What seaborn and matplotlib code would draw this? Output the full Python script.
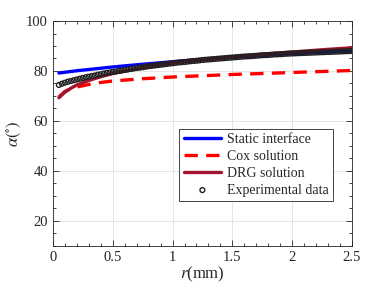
import numpy as np
import pandas as pd
import matplotlib.pyplot as plt
import seaborn as sns
from matplotlib.ticker import MultipleLocator

# model curves (r in mm, contact angle in degrees)
r_model = [0.05, 0.1, 0.15, 0.2, 0.3, 0.4, 0.5, 0.75, 1.0, 1.25, 1.5, 1.75, 2.0, 2.25, 2.5]
static_alpha = [79.2, 79.5, 79.8, 80.1, 80.6, 81.1, 81.6, 82.7, 83.7, 84.6, 85.5, 86.2, 87.0, 87.5, 88.0]
cox_alpha = [69.6, 71.8, 72.9, 73.6, 74.6, 75.4, 76.0, 76.9, 77.6, 78.1, 78.6, 79.0, 79.4, 79.8, 80.2]
drg_alpha = [69.3, 71.5, 73.1, 74.4, 76.2, 77.7, 79.0, 81.3, 83.1, 84.5, 85.7, 86.7, 87.6, 88.5, 89.3]

# experimental data, r = 0.05 ... 2.5 mm every 0.025 mm
r_exp = np.round(np.arange(0.05, 2.5001, 0.025), 3)
exp_alpha = [74.4, 74.9, 75.3, 75.7, 76.0, 76.3, 76.6, 76.9, 77.2, 77.5,
             77.7, 78.0, 78.2, 78.5, 78.7, 79.0, 79.2, 79.4, 79.6, 79.8,
             80.0, 80.2, 80.4, 80.6, 80.8, 81.0, 81.2, 81.35, 81.5, 81.7,
             81.9, 82.05, 82.2, 82.35, 82.5, 82.65, 82.8, 82.95, 83.1, 83.25,
             83.4, 83.5, 83.6, 83.75, 83.9, 84.0, 84.1, 84.25, 84.4, 84.5,
             84.6, 84.7, 84.8, 84.9, 85.0, 85.1, 85.2, 85.3, 85.4, 85.5,
             85.6, 85.7, 85.8, 85.85, 85.9, 86.0, 86.1, 86.2, 86.3, 86.35,
             86.4, 86.5, 86.6, 86.65, 86.7, 86.8, 86.9, 86.95, 87.0, 87.05,
             87.1, 87.15, 87.2, 87.25, 87.3, 87.35, 87.4, 87.45, 87.5, 87.55,
             87.6, 87.65, 87.7, 87.75, 87.8, 87.85, 87.9, 87.95, 88.0]

sns.set_theme(style='ticks')
plt.rcParams['font.family'] = ['Liberation Serif', 'DejaVu Serif']
plt.rcParams['mathtext.fontset'] = 'stix'

fig = plt.figure(figsize=(3.89, 2.92), dpi=100)
ax = fig.add_axes([0.136, 0.158, 0.769, 0.770])

lw = 2.4
sns.lineplot(x=r_model, y=static_alpha, ax=ax, color=(0, 0, 1), lw=lw, label='Static interface')
sns.lineplot(x=r_model, y=cox_alpha, ax=ax, color=(1, 0, 0), lw=lw, label='Cox solution')
ax.lines[-1].set_dashes([4, 2.5])
sns.lineplot(x=r_model, y=drg_alpha, ax=ax, color=(0.635, 0.078, 0.184), lw=lw, label='DRG solution')
sns.scatterplot(x=r_exp, y=exp_alpha, ax=ax, marker='o', s=12, facecolor='none',
                edgecolor=(0.12, 0.12, 0.12), linewidth=1.0, label='Experimental data', zorder=3)

ax.set_xlim(0, 2.5)
ax.set_ylim(10, 100)
ax.xaxis.set_major_locator(MultipleLocator(0.5))
ax.xaxis.set_minor_locator(MultipleLocator(0.1))
ax.yaxis.set_major_locator(MultipleLocator(20))
ax.yaxis.set_minor_locator(MultipleLocator(5))
ax.set_xticks([0, 0.5, 1, 1.5, 2, 2.5])
ax.set_xticklabels(['0', '0.5', '1', '1.5', '2', '2.5'])
ax.tick_params(which='both', direction='in', top=True, right=True, colors='0.15',
               labelcolor='0.15', labelsize=10.5, width=0.6)
ax.tick_params(which='major', length=4)
ax.tick_params(which='minor', length=2)
ax.grid(True, which='major', color='0.88', lw=0.6)
for sp in ax.spines.values():
    sp.set_color('0.15')
    sp.set_linewidth(0.6)

ax.set_xlabel(r'$r$(mm)', fontsize=12, color='0.15', labelpad=1)
ax.set_ylabel(r'$\alpha(^{\circ})$', fontsize=12, color='0.15', labelpad=2)

leg = ax.legend(loc='lower right', bbox_to_anchor=(0.935, 0.2), fontsize=10, frameon=True,
                fancybox=False, edgecolor='0.15', framealpha=1, handlelength=2.7,
                borderpad=0.3, labelspacing=0.28, handletextpad=0.4, borderaxespad=0)
leg.get_frame().set_linewidth(0.6)

plt.savefig('out.png', dpi=100)
